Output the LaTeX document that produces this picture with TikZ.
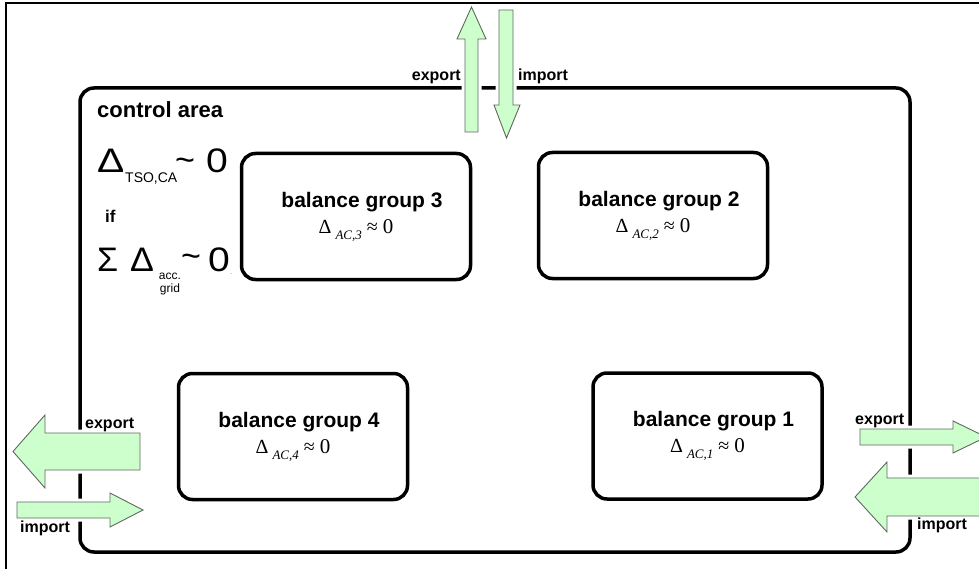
\documentclass[tikz,border=0pt]{standalone}
\usepackage{graphicx}
\usepackage{fontspec}
\setmainfont{Liberation Sans}
\newfontfamily\formfont{Liberation Serif}
\usetikzlibrary{positioning}

\definecolor{flowgreen}{RGB}{204,255,204}
\definecolor{flowedge}{RGB}{95,105,95}

% deviation formula inside a balance group
\newcommand{\acdelta}[1]{{\formfont\mdseries\fontsize{20}{20}\selectfont
    Δ\hspace{4pt}\raisebox{-6pt}{\fontsize{13}{13}\selectfont\itshape AC,#1}%
    \hspace{5pt}≈\hspace{5pt}{\fontsize{21}{21}\selectfont 0}}}

\begin{document}
\begin{tikzpicture}[
    x=1pt, y=-1pt,
    %% ── frames and boxes ────────────────────────────────────────────
    frame/.style={draw, line width=2.2pt},
    area/.style={
        draw, line width=3.5pt, rounded corners=14pt,
        minimum width=830pt, minimum height=464pt, inner sep=0pt,
    },
    group/.style={
        draw, line width=3.5pt, rounded corners=14pt,
        minimum width=229pt, minimum height=126pt, inner sep=0pt,
        align=center, font=\fontsize{21}{26}\selectfont\bfseries,
    },
    %% ── exchange arrows ─────────────────────────────────────────────
    flow/.style={
        fill=flowgreen, draw=flowedge, line width=0.9pt,
        preaction={draw=white, line width=7pt},
    },
    flowlbl/.style={font=\fontsize{16}{16}\selectfont\bfseries, inner sep=0pt},
    %% ── control area formula ────────────────────────────────────────
    bigsym/.style={font=\fontsize{34}{34}\selectfont, inner sep=0pt, anchor=base west},
    subtxt/.style={font=\fontsize{14}{14}\selectfont, inner sep=0pt},
]
\useasboundingbox (0,0) rectangle (979,569);

%% control area and balance groups
\node[area] (ca) at (495,320) {};
\node[flowlbl, font=\fontsize{22}{22}\selectfont\bfseries, anchor=base west] (catitle) at (97,118) {control area};

\node[group] (bg3) at (356,216.5) {\hspace*{12pt}balance group 3\\\acdelta{3}};
\node[group] (bg2) at (653,215.5) {\hspace*{12pt}balance group 2\\\acdelta{2}};
\node[group] (bg4) at (293,436.5) {\hspace*{12pt}balance group 4\\\acdelta{4}};
\node[group] (bg1) at (707.5,436) {\hspace*{12pt}balance group 1\\\acdelta{1}};

%% condition for the control area
\node[bigsym] (dtso) at (97,173) {\scalebox{1.2}[1]{Δ}};
\node[subtxt, anchor=base west] (tsoca) at (125,183) {TSO,CA};
\node[bigsym] (tilde1) at (175,172) {\textasciitilde};
\node[bigsym] (zero1) at (206,173) {\scalebox{1.15}[1]{0}};
\node[flowlbl, font=\fontsize{17}{17}\selectfont\bfseries, anchor=base west] (if) at (105,223) {if};
\node[bigsym] (sigma) at (97,272) {Σ};
\node[bigsym] (dacc) at (130,272) {\scalebox{1.05}[1]{Δ}};
\node[subtxt, font=\fontsize{12}{12.5}\selectfont, anchor=north, align=center] (accgrid) at (170,273) {acc.\\grid};
\node[bigsym] (tilde2) at (181,267) {\textasciitilde};
\node[bigsym] (zero2) at (208,272) {\scalebox{1.15}[1]{0}};
\node[subtxt, font=\fontsize{8}{8}\selectfont, text=black!50, anchor=base west] (dot) at (230,274) {.};

%% exchange arrows
\draw[flow] (465,132) -- (465,39) -- (457,39) -- (471.5,7) -- (486,39) -- (478,39) -- (478,132) -- cycle;
\draw[flow] (499,10) -- (499,105) -- (494,105) -- (506.5,138) -- (520,105) -- (513,105) -- (513,10) -- cycle;
\draw[flow] (140,433) -- (45,433) -- (45,415) -- (13,451.5) -- (45,488) -- (45,470) -- (140,470) -- cycle;
\draw[flow] (17,502) -- (110,502) -- (110,493) -- (143,510) -- (110,527) -- (110,518) -- (17,518) -- cycle;
\draw[flow] (860,429) -- (953,429) -- (953,421) -- (986,437) -- (953,453) -- (953,445) -- (860,445) -- cycle;
\draw[flow] (995,478) -- (887,478) -- (887,462) -- (855,497) -- (887,532) -- (887,516) -- (995,516) -- cycle;

\node[flowlbl, anchor=base east] (exptop) at (461,81) {export};
\node[flowlbl, anchor=base west] (imptop) at (518,81) {import};
\node[flowlbl, anchor=base west] (expleft) at (85,428) {export};
\node[flowlbl, anchor=base west] (impleft) at (20,532) {import};
\node[flowlbl, anchor=base west] (expright) at (855,424) {export};
\node[flowlbl, anchor=base west] (impright) at (917,529) {import};

%% outer frame
\draw[frame] (6,569) -- (6,3) -- (979,3);

\end{tikzpicture}
\end{document}
